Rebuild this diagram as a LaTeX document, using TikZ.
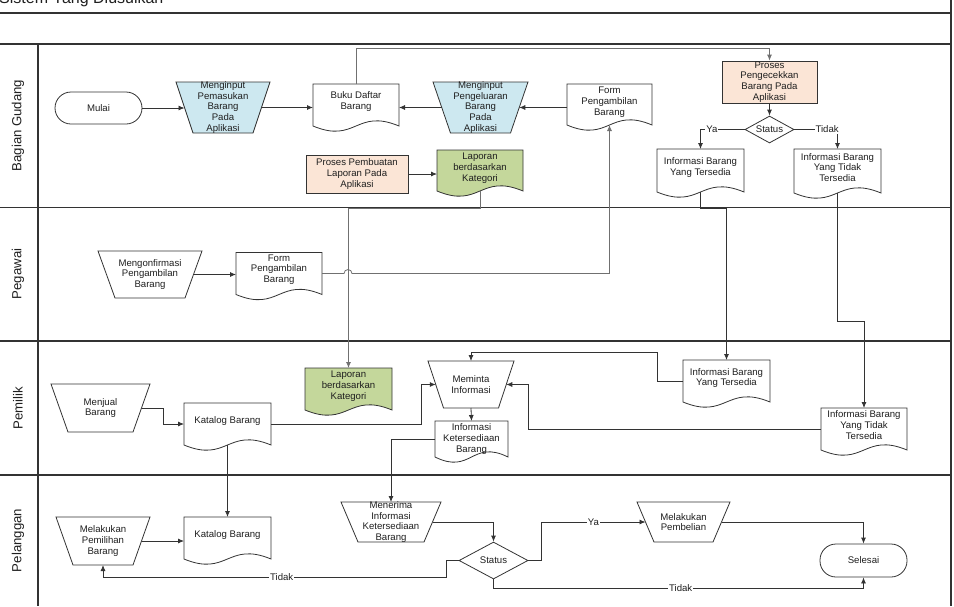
\documentclass[tikz,border=0pt]{standalone}
\usepackage{fontspec}
\setmainfont{Liberation Sans}
\usetikzlibrary{calc,arrows.meta,shapes.geometric}

\definecolor{ln}{HTML}{333333}
\definecolor{lnl}{HTML}{707070}
\definecolor{fblue}{RGB}{205,232,240}
\definecolor{fpeach}{RGB}{251,229,214}
\definecolor{fgreen}{RGB}{196,215,155}

\tikzset{
  box/.style={draw=none, inner sep=0pt, outer sep=0pt},
  shp/.style={draw=ln, line width=0.8pt},
  txt/.style={font=\fontsize{9.6}{10.8}\selectfont, align=center, inner sep=0pt, text=black!88},
  conn/.style={draw=ln, line width=0.8pt, -{Latex[length=6pt,width=5pt]}},
  lbl/.style={font=\fontsize{9.6}{10.8}\selectfont, fill=white, inner sep=1pt, text=black!88},
  frame/.style={draw=ln, line width=1.1pt},
  lane/.style={font=\fontsize{13.2}{15}\selectfont, rotate=90, inner sep=0pt, text=black!88},
}

% document shape: name, cx, cy, w, h, fill, text shift, text
\newcommand{\DocShape}[8]{%
  \node[box, minimum width=#4, minimum height=#5] (#1) at (#2,#3) {};
  \draw[shp, fill=#6] (#1.south east) -- (#1.north east) -- (#1.north west) -- (#1.south west)
     .. controls ($(#1.south)+(0,18)$) and ($(#1.south)+(0,-18)$) .. (#1.south east) -- cycle;
  \node[txt] (#1-t) at ($(#1.center)+(0,#7)$) {#8};
}
% manual operation: name, cx, cy, top w, bottom w, h, fill, text
\newcommand{\ManOp}[8]{%
  \node[box, minimum width={(#4+#5)/2}, minimum height=#6] (#1) at (#2,#3) {};
  \draw[shp, fill=#7] ($(#1.north west)+({-(#4-#5)/4},0)$) -- ($(#1.north east)+({(#4-#5)/4},0)$)
     -- ($(#1.south east)+({-(#4-#5)/4},0)$) -- ($(#1.south west)+({(#4-#5)/4},0)$) -- cycle;
  \node[txt] (#1-t) at (#1.center) {#8};
}

\begin{document}
\begin{tikzpicture}[x=1pt,y=-1pt]
\path[use as bounding box] (0,0) rectangle (954,606);
\clip (0,0) rectangle (954,606);

% title and frame
\node[anchor=base west, font=\fontsize{16}{19}\selectfont, inner sep=0pt, text=black!88] (title) at (-1,3.5) {Sistem Yang Diusulkan};
\draw[frame] (0,13) -- (951,13);
\draw[frame] (0,44) -- (951,44);
\draw[frame] (0,207.5) -- (951,207.5);
\draw[frame] (0,341) -- (951,341);
\draw[frame] (0,475) -- (951,475);
\draw[frame] (38,44) -- (38,606);
\draw[frame] (951,0) -- (951,606);

\node[lane] (l1) at (18,125.5) {Bagian Gudang};
\node[lane] (l2) at (18,274) {Pegawai};
\node[lane] (l3) at (18,408) {Pemilik};
\node[lane] (l4) at (18,540.5) {Pelanggan};

% ---- Bagian Gudang
\node[shp, txt, rounded corners=16pt, minimum width=87, minimum height=32] (mulai) at (98.5,108) {Mulai};
\ManOp{pem}{223}{107.5}{94}{60}{51}{fblue}{Menginput\\Pemasukan\\Barang\\Pada\\Aplikasi}
\DocShape{buku}{356}{105}{86}{42}{white}{-3.5}{Buku Daftar\\Barang}
\ManOp{peng}{480.5}{107.5}{95}{60}{51}{fblue}{Menginput\\Pengeluaran\\Barang\\Pada\\Aplikasi}
\DocShape{form1}{609.5}{104.5}{85}{41}{white}{-2.5}{Form\\Pengambilan\\Barang}
\node[shp, txt, fill=fpeach, minimum width=102, minimum height=38] (pbuat) at (357,174) {Proses Pembuatan\\Laporan Pada\\Aplikasi};
\DocShape{lap1}{480}{170.5}{86}{41}{fgreen}{-2.5}{Laporan\\berdasarkan\\Kategori}
\node[shp, txt, fill=fpeach, minimum width=95, minimum height=42] (pcek) at (769.5,82) {Proses\\Pengecekkan\\Barang Pada\\Aplikasi};
\node[shp, txt, diamond, aspect=1.8, minimum width=49, minimum height=27] (st1) at (769.5,129.5) {Status};
\DocShape{infoT1}{700.5}{170.5}{87}{43}{white}{-3}{Informasi Barang\\Yang Tersedia}
\DocShape{infoN1}{837.5}{171}{87}{44}{white}{-3.5}{Informasi Barang\\Yang Tidak\\Tersedia}

% ---- Pegawai
\ManOp{konf}{150}{274.5}{104}{70}{47}{white}{Mengonfirmasi\\Pengambilan\\Barang}
\DocShape{form2}{279}{273.5}{86}{42}{white}{-4}{Form\\Pengambilan\\Barang}

% ---- Pemilik
\ManOp{jual}{100.5}{408}{99}{65}{48}{white}{Menjual\\Barang}
\DocShape{kat3}{227.5}{424}{87}{42}{white}{-3}{Katalog Barang}
\DocShape{lap3}{348.5}{389}{87}{42}{fgreen}{-3}{Laporan\\berdasarkan\\Kategori}
\ManOp{minta}{471}{384.5}{86}{55}{47}{white}{Meminta\\Informasi}
\DocShape{ket}{471.5}{439}{73}{36}{white}{0}{Informasi\\Ketersediaan\\Barang}
\DocShape{infoT3}{726.5}{381}{87}{42}{white}{-3}{Informasi Barang\\Yang Tersedia}
\DocShape{infoN3}{864}{429}{86}{42}{white}{-4}{Informasi Barang\\Yang Tidak\\Tersedia}

% ---- Pelanggan
\ManOp{pilih}{103}{541}{94}{60}{48}{white}{Melakukan\\Pemilihan\\Barang}
\DocShape{kat4}{227.5}{538}{87}{42}{white}{-3}{Katalog Barang}
\ManOp{terima}{391}{522}{100}{66}{40}{white}{Menerima\\Informasi\\Ketersediaan\\Barang}
\node[shp, txt, diamond, aspect=1.86, minimum width=69, minimum height=37] (st2) at (493.5,560.5) {Status};
\ManOp{beli}{683.5}{522}{93}{59}{40}{white}{Melakukan\\Pembelian}
\node[shp, txt, rounded corners=16pt, minimum width=87, minimum height=33] (selesai) at (863.5,560.5) {Selesai};

% ---- connectors
\draw[conn] (mulai.east) -- (mulai.east -| pem.west);
\draw[conn] (pem.east) -- (pem.east -| buku.west);
\draw[conn] (peng.west) -- (peng.west -| buku.east);
\draw[conn] (form1.west |- peng.east) -- (peng.east);
\draw[conn, draw=lnl] (buku.north) -- ++(0,-36) -| (pcek.north);
\draw[conn] (pcek.south) -- (st1.north);
\draw[conn] (st1.west) -| node[lbl, pos=0.37] (ya1) {Ya} (infoT1.north);
\draw[conn] (st1.east) -| node[lbl, pos=0.38] (td1) {Tidak} (infoN1.north);
\draw[conn] (pbuat.east) -- (pbuat.east -| lap1.west);
\draw[conn, draw=lnl] (lap1.south) -- ++(0,17) -| (lap3.north);
\draw[conn] (konf.east) -- (konf.east -| form2.west);
\draw[conn, draw=lnl] (form2.east) -- ++(22,0) arc[start angle=180, end angle=360, radius=4] -| (form1.south);
\draw[conn] (infoT1.south) -- ++(0,16) -| (infoT3.north);
\draw[conn] (infoN1.south) -- ++(0,128) -| (infoN3.north);
\draw[conn] (jual.east) -- ++(21.5,0) |- (kat3.west);
\draw[conn] (kat3.east) -- ++(150.5,0) |- (minta.west);
\draw[conn] (minta.south) -- (ket.north);
\draw[conn] (ket.west) -| (terima.north);
\draw[conn] (infoT3.west) -- ++(-26,0) -- ++(0,-29) -| (minta.north);
\draw[conn] (infoN3.west) -- ++(-293,0) |- (minta.east);
\draw[conn] (kat3.south) -- (kat4.north);
\draw[conn] (pilih.east) -- (pilih.east -| kat4.west);
\draw[conn] (terima.east) -| (st2.north);
\draw[conn] (st2.east) -- ++(13,0) |- node[lbl, pos=0.75] (ya2) {Ya} (beli.west);
\draw[conn] (st2.west) -- ++(-12,0) -- ++(0,16.5) -| node[lbl, pos=0.24] (td2) {Tidak} (pilih.south);
\draw[conn] (st2.south) -- ++(0,8.5) -| node[lbl, pos=0.253] (td3) {Tidak} (selesai.south);
\draw[conn] (beli.east) -| (selesai.north);
\end{tikzpicture}
\end{document}
